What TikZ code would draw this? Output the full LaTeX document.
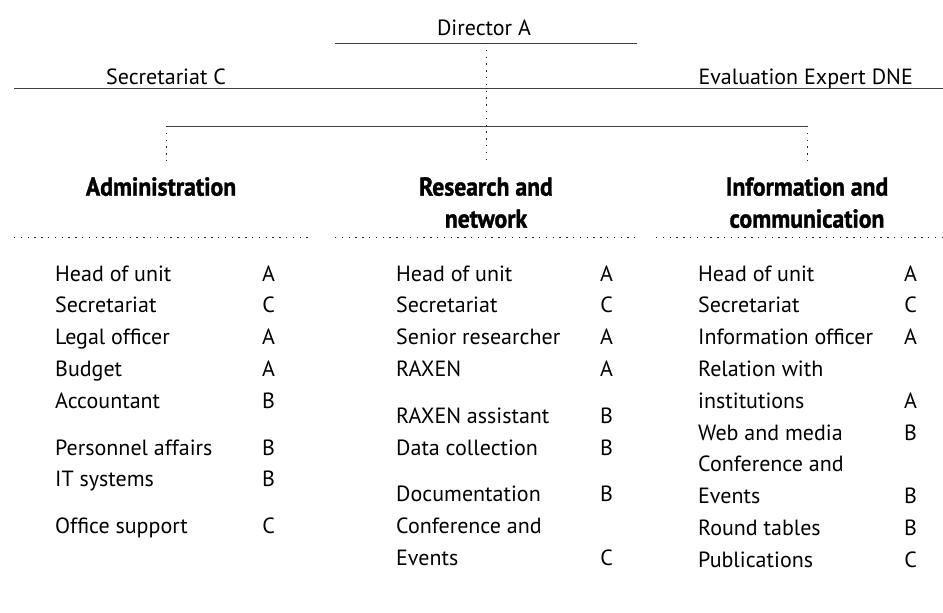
\documentclass[tikz,border=0pt]{standalone}
\usepackage{fontspec}
\setmainfont{PT Sans}
\newfontfamily\headfont[FakeStretch=0.91,FakeBold=1.3]{PT Sans Bold}
\usetikzlibrary{calc}

\tikzset{
  rule/.style={draw=black!75, line width=0.9pt},
  dotline/.style={draw=black!85, line width=1pt, dash pattern=on 1.4pt off 5.4pt},
  staff/.style={inner sep=0pt, font=\fontsize{22}{31.8}\selectfont},
  unit/.style={inner sep=0pt, anchor=north, align=center,
    font=\headfont\fontsize{26}{32}\selectfont},
}

\begin{document}
\begin{tikzpicture}[x=1pt,y=-1pt]
  \useasboundingbox (0,0) rectangle (943,613);
    % Top level
  \node[staff, anchor=base] (dir) at (484,35) {Director A};
  \coordinate (dirL) at (335,43);
  \coordinate (dirR) at (637,43);
  \node[staff, anchor=base west] (sec) at (106,84) {Secretariat C};
  \node[staff, anchor=base east] (eval) at (913,84) {Evaluation Expert DNE};
  \coordinate (staffL) at (14,88);
  \coordinate (staffR) at (943,88);
  \coordinate (brA) at (166,126);
  \coordinate (brI) at (807,126);
    % Units
  \node[unit] (adm) at (161,177) {Administration};
  \node[unit] (res) at (486,177) {Research and\\network};
  \node[unit] (inf) at (807,177) {Information and\\communication};

  \draw [rule] (dirL)   -- (dirR);
  \draw [rule] (staffL) -- (staffR);
  \draw [rule] (brA)    -- (brI);
  \draw [dotline, shorten >=15pt] (486,43) -- (res.north);
  \draw [dotline, shorten >=15pt] (brA) -- (brA |- adm.north);
  \draw [dotline, shorten >=15pt] (brI) -- (brI |- inf.north);
  \draw [dotline] (14,237)  -- (313,237);
  \draw [dotline] (335,237) -- (635,237);
  \draw [dotline] (656,237) -- (943,237);

    % Staff lists
  \node[staff, anchor=base west] (admList) at (55,281) {%
    \begin{tabular}[t]{@{}p{207pt}@{}c@{}}
      Head of unit & A\\
      Secretariat & C\\
      Legal officer & A\\
      Budget & A\\
      Accountant & B\\[15pt]
      Personnel affairs & B\\
      IT systems & B\\[15pt]
      Office support & C
    \end{tabular}};
  \node[staff, anchor=base west] (resList) at (396,281) {%
    \begin{tabular}[t]{@{}p{204pt}@{}c@{}}
      Head of unit & A\\
      Secretariat & C\\
      Senior researcher & A\\
      RAXEN & A\\[15pt]
      RAXEN assistant & B\\
      Data collection & B\\[15pt]
      Documentation & B\\
      Conference and & \\
      Events & C
    \end{tabular}};
  \node[staff, anchor=base west] (infList) at (698,281) {%
    \begin{tabular}[t]{@{}p{206pt}@{}c@{}}
      Head of unit & A\\
      Secretariat & C\\
      Information officer & A\\
      Relation with & \\
      institutions & A\\
      Web and media & B\\
      Conference and & \\
      Events & B\\
      Round tables & B\\
      Publications & C
    \end{tabular}};

\end{tikzpicture}
\end{document}
